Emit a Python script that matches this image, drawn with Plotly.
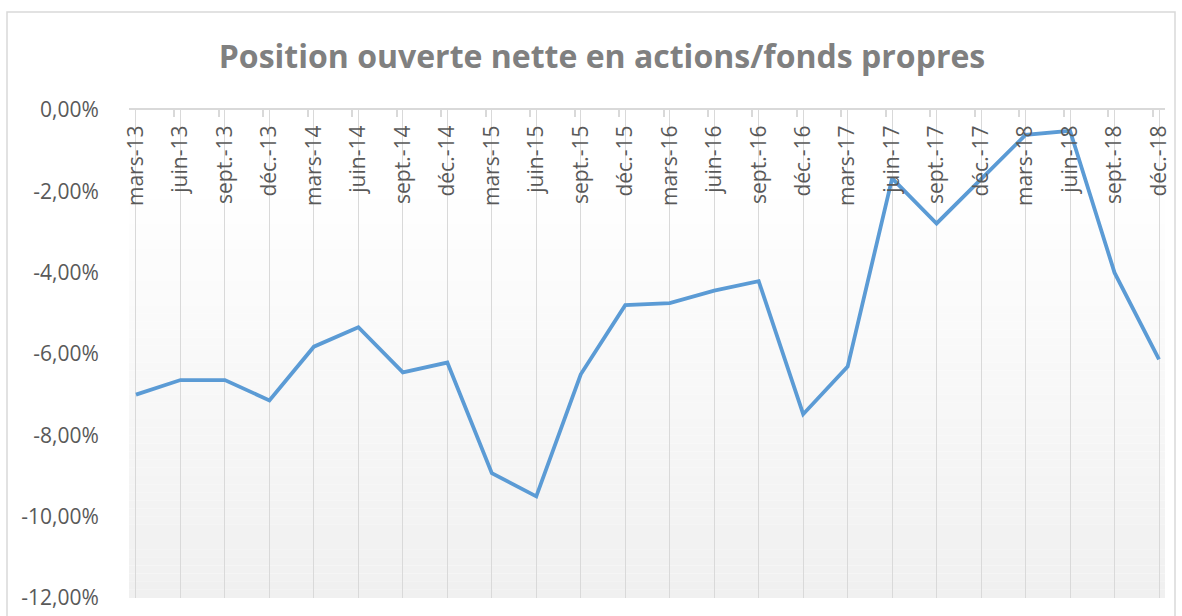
import plotly.graph_objects as go

categories = ["mars-13", "juin-13", "sept.-13", "déc.-13",
              "mars-14", "juin-14", "sept.-14", "déc.-14",
              "mars-15", "juin-15", "sept.-15", "déc.-15",
              "mars-16", "juin-16", "sept.-16", "déc.-16",
              "mars-17", "juin-17", "sept.-17", "déc.-17",
              "mars-18", "juin-18", "sept.-18", "déc.-18"]

# Position ouverte nette en actions / fonds propres (in %)
values_pct = [-7.00, -6.64, -6.64, -7.14,
              -5.82, -5.34, -6.45, -6.21,
              -8.93, -9.50, -6.50, -4.80,
              -4.75, -4.44, -4.21, -7.48,
              -6.31, -1.68, -2.79, -1.70,
              -0.61, -0.51, -4.00, -6.13]

y_ticks_pct = [0, -2, -4, -6, -8, -10, -12]
y_tick_labels = [f"{v:.2f}%".replace(".", ",") for v in y_ticks_pct]

idx = list(range(len(categories)))

W, H = 1182, 616
L, R, T, B = 129, 17, 110, 18
pw, ph = W - L - R, H - T - B

fig = go.Figure()
fig.add_trace(go.Scatter(
    x=idx, y=values_pct, mode="lines",
    line=dict(color="#5b9bd5", width=3.8),
    hoverinfo="skip", showlegend=False,
))
# invisible traces to activate the label / tick-mark axes
fig.add_trace(go.Scatter(x=[idx[0]], y=[values_pct[0]], xaxis="x2", mode="none",
                         showlegend=False, hoverinfo="skip"))
fig.add_trace(go.Scatter(x=[idx[0]], y=[values_pct[0]], xaxis="x3", mode="none",
                         showlegend=False, hoverinfo="skip"))

xr = [-0.157, len(categories) - 1 + 0.135]

# gradient background of plot area
shapes = []
nb = 60
for k in range(nb):
    t = (k + 0.5) / nb  # 0 at top, 1 at bottom
    f = max(0.0, (t - 0.15) / 0.85)
    c = int(round(255 - f * (255 - 240)))
    shapes.append(dict(type="rect", xref="paper", yref="paper",
                       x0=0, x1=1, y0=1 - (k + 1) / nb, y1=1 - k / nb,
                       fillcolor=f"rgb({c},{c},{c})", line=dict(width=0),
                       layer="below"))
# chart border
shapes.append(dict(type="rect", xref="paper", yref="paper",
                   x0=(7 - L) / pw, x1=(1175 - L) / pw,
                   y0=-0.1, y1=(H - B - 12) / ph,
                   line=dict(color="#d9d9d9", width=1.5), fillcolor="rgba(0,0,0,0)",
                   layer="below"))

fig.update_layout(
    template="none",
    width=W, height=H,
    margin=dict(l=L, r=R, t=T, b=B, pad=0, autoexpand=False),
    paper_bgcolor="white",
    plot_bgcolor="rgba(0,0,0,0)",
    font=dict(family="Open Sans", color="#595959", size=21),
    title=dict(text="<b>Position ouverte nette en actions/fonds propres</b>",
               x=602 / W, xref="container", xanchor="center",
               y=1 - 57 / H, yref="container", yanchor="middle",
               font=dict(family="Open Sans", size=32, color="#808080")),
    shapes=shapes,
    xaxis=dict(
        range=xr, side="top", automargin=False,
        tickmode="array", tickvals=idx, showticklabels=False,
        ticks="", showgrid=True, gridcolor="#d9d9d9", gridwidth=1,
        showline=True, linecolor="#d9d9d9", linewidth=1.5,
        zeroline=False, fixedrange=True,
    ),
    xaxis2=dict(
        range=xr, overlaying="x", side="top", anchor="free", position=1,
        automargin=False,
        tickmode="array", tickvals=idx, ticktext=categories,
        tickangle=-90, ticklabelposition="inside", ticklabeloverflow="allow",
        ticks="", ticklen=0, showgrid=False, showline=False, zeroline=False,
        tickfont=dict(family="Open Sans", size=21, color="#595959"),
    ),
    xaxis3=dict(
        range=xr, overlaying="x", side="top", anchor="y", automargin=False,
        tickmode="array", tickvals=[i - 0.14 for i in idx], showticklabels=False,
        ticks="inside", ticklen=7, tickcolor="#d9d9d9", tickwidth=1.5,
        showgrid=False, showline=False, zeroline=False,
    ),
    yaxis=dict(
        range=[-12, 0], automargin=False,
        tickmode="array", tickvals=y_ticks_pct, ticktext=y_tick_labels,
        showgrid=False, zeroline=False, showline=False,
        ticks="outside", ticklen=25, tickcolor="rgba(0,0,0,0)",
        tickfont=dict(family="Open Sans", size=21, color="#595959"),
    ),
)

fig.write_html("out.html", config={"displayModeBar": False},
               post_script="document.body.style.margin='0';")
